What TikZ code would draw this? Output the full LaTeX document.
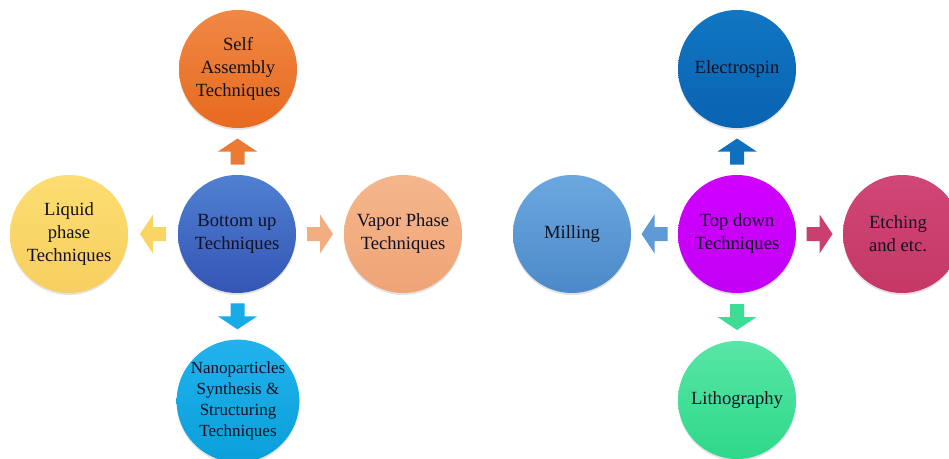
\documentclass[tikz,border=0pt]{standalone}
\usepackage{fontspec}
\setmainfont{Liberation Serif}
\usetikzlibrary{calc,shadows}
\definecolor{saT}{HTML}{F08845}\definecolor{saB}{HTML}{E76A1F}
\definecolor{buT}{HTML}{5080D2}\definecolor{buB}{HTML}{3455B4}
\definecolor{lqT}{HTML}{FCDD72}\definecolor{lqB}{HTML}{F7CF5E}
\definecolor{vpT}{HTML}{F5B68C}\definecolor{vpB}{HTML}{EFA476}
\definecolor{npT}{HTML}{20B3EC}\definecolor{npB}{HTML}{0B9FDB}
\definecolor{elT}{HTML}{1176C3}\definecolor{elB}{HTML}{0963B2}
\definecolor{tdT}{HTML}{D000FF}\definecolor{tdB}{HTML}{C200F5}
\definecolor{mlT}{HTML}{6CA8DF}\definecolor{mlB}{HTML}{4B89C9}
\definecolor{etT}{HTML}{D04676}\definecolor{etB}{HTML}{C53866}
\definecolor{lgT}{HTML}{58E6A6}\definecolor{lgB}{HTML}{2ED88A}
\definecolor{aSA}{HTML}{EC7A33}\definecolor{aLQ}{HTML}{F9D564}
\definecolor{aVP}{HTML}{F2AE80}\definecolor{aNP}{HTML}{17ABE8}
\definecolor{aEL}{HTML}{0F70BD}\definecolor{aML}{HTML}{5D9AD6}
\definecolor{aET}{HTML}{C9406F}\definecolor{aLG}{HTML}{3DDD95}
\definecolor{txt}{HTML}{111122}
\begin{document}
\begin{tikzpicture}[x=1pt,y=-1pt,
  circ/.style={circle, minimum size=118pt, inner sep=0pt, align=center,
    font=\fontsize{18.6}{23}\selectfont, text=txt,
    drop shadow={opacity=0.22, shadow xshift=0pt, shadow yshift=-2pt}},
  barrow/.pic={\path[pic actions] (-13,-7) -- (0,-7) -- (0,-19.5) -- (13,0) -- (0,19.5) -- (0,7) -- (-13,7) -- cycle;}
]
\useasboundingbox[fill=white] (0,0) rectangle (949,458);

% Bottom up group
\node[circ, top color=buT, bottom color=buB] (bu) at (237,234) {Bottom up\\Techniques};
\node[circ, top color=saT, bottom color=saB] (sa) at (238,69) {Self\\Assembly\\Techniques};
\node[circ, top color=lqT, bottom color=lqB] (lq) at (69,234) {Liquid\\phase\\Techniques};
\node[circ, top color=vpT, bottom color=vpB] (vp) at (403,234) {Vapor Phase\\Techniques};
\node[circ, top color=npT, bottom color=npB, font=\fontsize{17}{21}\selectfont] (np) at (238,401) {Nanoparticles\\Synthesis \&\\Structuring\\Techniques};

\pic[rotate=90, fill=aSA] at ($(bu.north)!0.5!(sa.south)$) {barrow};
\pic[rotate=180, fill=aLQ] at ($(bu.west)!0.5!(lq.east)$) {barrow};
\pic[fill=aVP] at ($(bu.east)!0.5!(vp.west)$) {barrow};
\pic[rotate=-90, fill=aNP] at ($(bu.south)!0.5!(np.north)$) {barrow};

% Top down group
\node[circ, top color=tdT, bottom color=tdB] (td) at (737,234) {Top down\\Techniques};
\node[circ, top color=elT, bottom color=elB] (el) at (737,69) {Electrospin};
\node[circ, top color=mlT, bottom color=mlB] (ml) at (572,234) {Milling};
\node[circ, top color=etT, bottom color=etB] (et) at (902,234) {\hspace*{-8pt}Etching\\\hspace*{-8pt}and etc.};
\node[circ, top color=lgT, bottom color=lgB] (lg) at (737,400) {Lithography};

\pic[rotate=90, fill=aEL] at ($(td.north)!0.5!(el.south)$) {barrow};
\pic[rotate=180, fill=aML] at ($(td.west)!0.5!(ml.east)$) {barrow};
\pic[fill=aET] at ($(td.east)!0.5!(et.west)$) {barrow};
\pic[rotate=-90, fill=aLG] at ($(td.south)!0.5!(lg.north)$) {barrow};
\end{tikzpicture}
\end{document}
